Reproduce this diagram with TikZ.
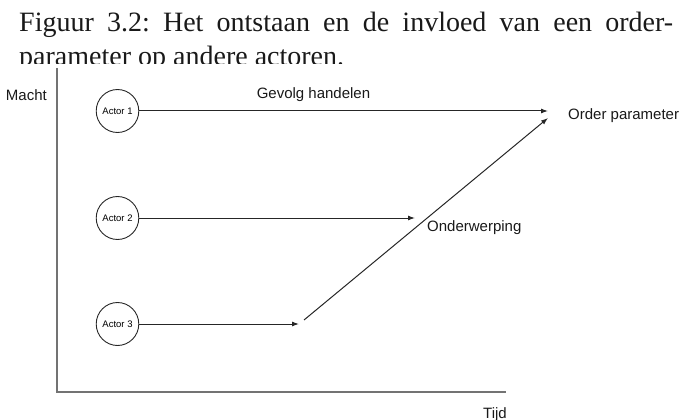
\documentclass[tikz,border=0pt]{standalone}
\usepackage{fontspec}
\setmainfont{Liberation Serif}
\newfontfamily\diagfont{Liberation Sans}
\usetikzlibrary{arrows.meta,shapes.geometric}
\frenchspacing
\begin{document}
\begin{tikzpicture}[x=1pt,y=-1pt,
  caption/.style={anchor=base west, inner sep=0pt, font=\fontsize{28}{34}\selectfont, text=black!90},
  lbl/.style={font=\diagfont\fontsize{15}{18}\selectfont, inner sep=0pt, text=black!90},
  actor/.style={ellipse, draw=black!85, line width=0.9pt, minimum width=41pt, minimum height=43pt,
    inner sep=0pt, font=\diagfont\fontsize{9.5}{10}\selectfont},
  conn/.style={draw=black!85, line width=1pt, -{Latex[length=7pt,width=5pt]}},
  axisline/.style={draw=black!55, line width=1.8pt}]
\useasboundingbox (0,0) rectangle (686,420);
\begin{scope}
  \clip (0,0) rectangle (686,64);
  \node[caption] (cap1) at (19,32) {\makebox[654pt][s]{Figuur 3.2: Het ontstaan en de invloed van een order-}};
  \node[caption] (cap2) at (19,66) {parameter op andere actoren.};
\end{scope}
% axes
\coordinate (ytop) at (57,68);
\coordinate (origin) at (57,392);
\coordinate (xend) at (506,392);
\draw[axisline] (ytop) -- (origin) -- (xend);
% labels
\node[lbl, anchor=base east] (macht) at (47,101) {Macht};
\node[lbl, anchor=base] (gev) at (313.5,99) {Gevolg handelen};
\node[lbl, anchor=base west] (op) at (568,119) {Order parameter};
\node[lbl, anchor=base west] (ond) at (427,231) {Onderwerping};
\node[lbl, anchor=base east] (tijd) at (507,418) {Tijd};
% actors
\node[actor] (a1) at (117.5,111) {Actor 1};
\node[actor] (a2) at (117.5,218) {Actor 2};
\node[actor] (a3) at (117.5,324) {Actor 3};
% arrow ends
\coordinate (t1) at (548,111);
\coordinate (t2) at (415,218);
\coordinate (t3) at (299,324);
\coordinate (d0) at (304,320);
\coordinate (t4) at (548,118);
\draw[conn] (a1) -- (t1);
\draw[conn] (a2) -- (t2);
\draw[conn] (a3) -- (t3);
\draw[conn] (d0) -- (t4);
\end{tikzpicture}
\end{document}
